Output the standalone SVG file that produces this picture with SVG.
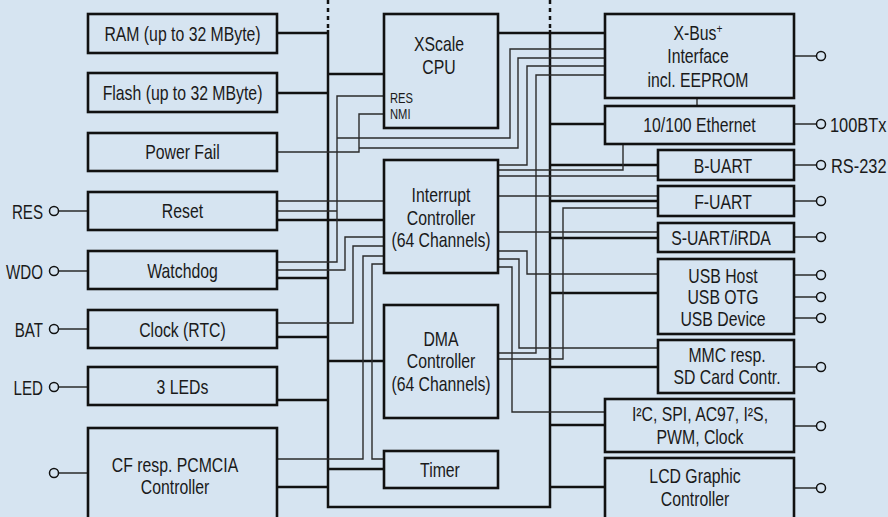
<svg xmlns="http://www.w3.org/2000/svg" width="888" height="517" viewBox="0 0 888 517">
<style>
.bg{fill:#d6e4f1}
.box{fill:#d6e4f1;stroke:#111;stroke-width:2.6}
.t{font-family:"Liberation Sans",Arial,sans-serif;font-size:20px;fill:#1a1a1a;text-anchor:middle}
.s{font-family:"Liberation Sans",Arial,sans-serif;font-size:14px;fill:#1a1a1a}
.l{font-family:"Liberation Sans",Arial,sans-serif;font-size:21px;fill:#1a1a1a}
.bus{fill:none;stroke:#111;stroke-width:2.5}
.dash{fill:none;stroke:#111;stroke-width:2.5;stroke-dasharray:4 4}
.w{fill:none;stroke:#2b2b2b;stroke-width:1.4}
.pin{fill:#d6e4f1;stroke:#111;stroke-width:1.5}
</style>
<rect class="bg" x="0" y="0" width="888" height="517"/>

<g id="connectors">
  <path class="dash" d="M328,0 V30 M550,0 V30"/>
  <path class="bus" d="M328,30 V507 H550 V30"/>
  <path class="bus" d="M277,33 H328 M277,93 H328 M328,74 H384 M277,220 H384 M277,278 H328 M277,337 H328 M328,361 H384 M277,400 H328 M328,469 H384 M277,487 H328"/>
  <path class="bus" d="M498,33 H605 M550,124 H605 M550,165 H658 M550,201 H658 M550,238 H658 M550,293 H658 M550,367 H658 M550,425 H605 M550,487 H605"/>
  <path class="w" d="M384,96 H337 V262 H277 M277,211 H337 M337,138 H510 V49 H605"/>
  <path class="w" d="M384,114 H359 V152 H277 M359,148 H518 V58 H605"/>
  <path class="w" d="M498,165 H527 V66 H605"/>
  <path class="w" d="M605,75 H536 V353 H498"/>
  <path class="w" d="M277,201 H384"/>
  <path class="w" d="M277,270 H345 V237 H384"/>
  <path class="w" d="M277,323 H353 V246 H384"/>
  <path class="w" d="M277,459 H363 V256 H384"/>
  <path class="w" d="M384,459 H372 V264 H384"/>
  <path class="w" d="M498,170 H623 V144"/>
  <path class="w" d="M498,176 H658"/>
  <path class="w" d="M498,196 H658"/>
  <path class="w" d="M658,208 H563 V359 H498"/>
  <path class="w" d="M498,232 H658"/>
  <path class="w" d="M498,251 H527 V274 H658"/>
  <path class="w" d="M498,259 H519 V348 H658"/>
  <path class="w" d="M498,267 H512 V412 H605"/>
  <path class="w" d="M697,98 V106"/>
  <path class="w" d="M59,211 H88 M59,271 H88 M59,329 H88 M59,387 H88 M59,473 H88"/>
  <path class="w" d="M794,56 H816 M794,124 H816 M794,165 H816 M794,201 H816 M794,237 H816 M794,275 H816 M794,297 H816 M794,318 H816 M794,367 H816 M794,426 H816 M794,488 H816"/>
</g>

<g id="pins">
  <circle class="pin" cx="54" cy="211" r="4.5"/>
  <circle class="pin" cx="54" cy="271" r="4.5"/>
  <circle class="pin" cx="54" cy="329" r="4.5"/>
  <circle class="pin" cx="54" cy="387" r="4.5"/>
  <circle class="pin" cx="54" cy="473" r="4.5"/>
  <circle class="pin" cx="821" cy="56" r="4.5"/>
  <circle class="pin" cx="821" cy="124" r="4.5"/>
  <circle class="pin" cx="821" cy="165" r="4.5"/>
  <circle class="pin" cx="821" cy="201" r="4.5"/>
  <circle class="pin" cx="821" cy="237" r="4.5"/>
  <circle class="pin" cx="821" cy="275" r="4.5"/>
  <circle class="pin" cx="821" cy="297" r="4.5"/>
  <circle class="pin" cx="821" cy="318" r="4.5"/>
  <circle class="pin" cx="821" cy="367" r="4.5"/>
  <circle class="pin" cx="821" cy="426" r="4.5"/>
  <circle class="pin" cx="821" cy="488" r="4.5"/>
  <text class="l" transform="translate(43,219) scale(0.72,1)" text-anchor="end">RES</text>
  <text class="l" transform="translate(43,279) scale(0.72,1)" text-anchor="end">WDO</text>
  <text class="l" transform="translate(43,337) scale(0.72,1)" text-anchor="end">BAT</text>
  <text class="l" transform="translate(43,395) scale(0.72,1)" text-anchor="end">LED</text>
  <text class="l" transform="translate(830,132) scale(0.78,1)">100BTx</text>
  <text class="l" transform="translate(831,173) scale(0.78,1)">RS-232</text>
</g>

<g id="ram"><rect class="box" x="88" y="14" width="189" height="39"/><text class="t" transform="translate(182.5,41) scale(0.79,1)">RAM (up to 32 MByte)</text></g>
<g id="flash"><rect class="box" x="88" y="73" width="189" height="39"/><text class="t" transform="translate(182.5,99.5) scale(0.79,1)">Flash (up to 32 MByte)</text></g>
<g id="powerfail"><rect class="box" x="88" y="133" width="189" height="38"/><text class="t" transform="translate(182.5,159) scale(0.79,1)">Power Fail</text></g>
<g id="reset"><rect class="box" x="88" y="192" width="189" height="38"/><text class="t" transform="translate(182.5,218) scale(0.79,1)">Reset</text></g>
<g id="watchdog"><rect class="box" x="88" y="251" width="189" height="38"/><text class="t" transform="translate(182.5,277.5) scale(0.79,1)">Watchdog</text></g>
<g id="clock"><rect class="box" x="88" y="310" width="189" height="38"/><text class="t" transform="translate(182.5,336.5) scale(0.79,1)">Clock (RTC)</text></g>
<g id="leds"><rect class="box" x="88" y="367" width="189" height="38"/><text class="t" transform="translate(182.5,393.5) scale(0.79,1)">3 LEDs</text></g>
<g id="cf"><rect class="box" x="88" y="428" width="189" height="95"/><text class="t" transform="translate(175,471.5) scale(0.79,1)">CF resp. PCMCIA</text><text class="t" transform="translate(175,493.5) scale(0.79,1)">Controller</text></g>

<g id="cpu"><rect class="box" x="384" y="14" width="114" height="114"/><text class="t" transform="translate(439,50.5) scale(0.79,1)">XScale</text><text class="t" transform="translate(439,73.5) scale(0.79,1)">CPU</text><text class="s" transform="translate(390,103) scale(0.8,1)">RES</text><text class="s" transform="translate(390,119) scale(0.8,1)">NMI</text></g>
<g id="interrupt"><rect class="box" x="384" y="160" width="114" height="113"/><text class="t" transform="translate(441,202) scale(0.79,1)">Interrupt</text><text class="t" transform="translate(441,224.5) scale(0.79,1)">Controller</text><text class="t" transform="translate(441,247) scale(0.79,1)">(64 Channels)</text></g>
<g id="dma"><rect class="box" x="384" y="305" width="114" height="113"/><text class="t" transform="translate(441,345.5) scale(0.79,1)">DMA</text><text class="t" transform="translate(441,368) scale(0.79,1)">Controller</text><text class="t" transform="translate(441,390.5) scale(0.79,1)">(64 Channels)</text></g>
<g id="timer"><rect class="box" x="384" y="451" width="114" height="37"/><text class="t" transform="translate(440,477) scale(0.79,1)">Timer</text></g>

<g id="xbus"><rect class="box" x="605" y="14" width="189" height="84"/><text class="t" transform="translate(698,39.5) scale(0.79,1)">X-Bus<tspan font-size="13" dy="-7">+</tspan></text><text class="t" transform="translate(698,63) scale(0.79,1)">Interface</text><text class="t" transform="translate(698,86.5) scale(0.79,1)">incl. EEPROM</text></g>
<g id="ethernet"><rect class="box" x="605" y="106" width="189" height="38"/><text class="t" transform="translate(699.5,131.5) scale(0.79,1)">10/100 Ethernet</text></g>
<g id="buart"><rect class="box" x="658" y="150" width="136" height="30"/><text class="t" transform="translate(723,172.5) scale(0.79,1)">B-UART</text></g>
<g id="fuart"><rect class="box" x="658" y="186" width="136" height="30"/><text class="t" transform="translate(723,208.5) scale(0.79,1)">F-UART</text></g>
<g id="suart"><rect class="box" x="658" y="223" width="136" height="29"/><text class="t" transform="translate(721,244.5) scale(0.79,1)">S-UART/iRDA</text></g>
<g id="usb"><rect class="box" x="658" y="259" width="136" height="75"/><text class="t" transform="translate(723,282.5) scale(0.79,1)">USB Host</text><text class="t" transform="translate(723,304) scale(0.79,1)">USB OTG</text><text class="t" transform="translate(723,325.5) scale(0.79,1)">USB Device</text></g>
<g id="mmc"><rect class="box" x="658" y="340" width="136" height="53"/><text class="t" transform="translate(727,361.5) scale(0.79,1)">MMC resp.</text><text class="t" transform="translate(727,383.5) scale(0.79,1)">SD Card Contr.</text></g>
<g id="i2c"><rect class="box" x="605" y="399" width="189" height="53"/><text class="t" transform="translate(700,420.5) scale(0.79,1)">I²C, SPI, AC97, I²S,</text><text class="t" transform="translate(700,443.5) scale(0.79,1)">PWM, Clock</text></g>
<g id="lcd"><rect class="box" x="605" y="458" width="189" height="65"/><text class="t" transform="translate(695,482.5) scale(0.79,1)">LCD Graphic</text><text class="t" transform="translate(695,505.5) scale(0.79,1)">Controller</text></g>
</svg>
